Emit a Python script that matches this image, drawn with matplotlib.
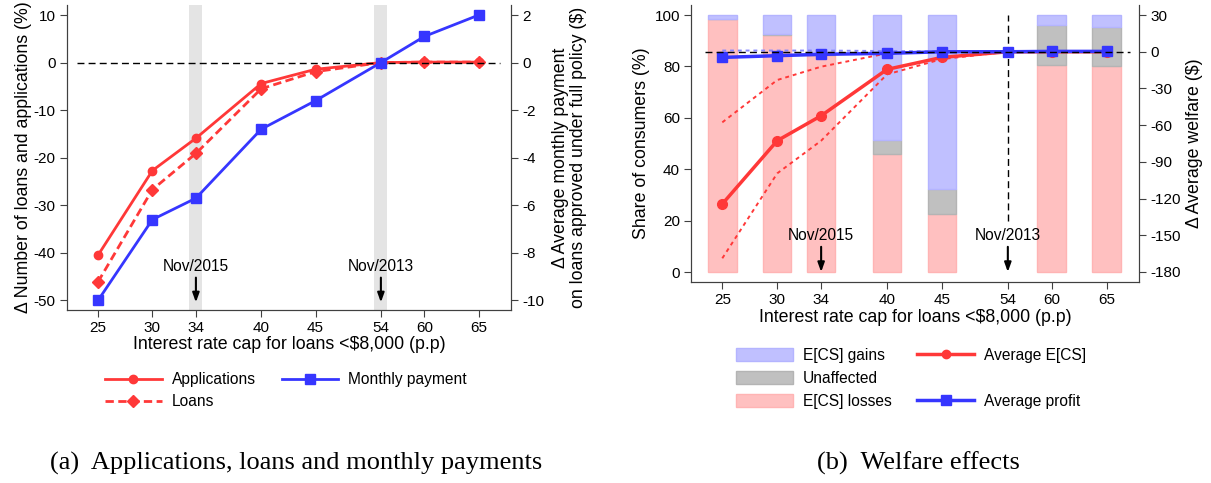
import numpy as np
import matplotlib
matplotlib.use('Agg')
import matplotlib.pyplot as plt
from matplotlib.patches import Patch
from matplotlib.lines import Line2D

plt.rcParams['font.family'] = ['Liberation Sans', 'DejaVu Sans']
plt.rcParams['font.size'] = 11
plt.rcParams['axes.unicode_minus'] = False

# interest rate caps (p.p.)
caps = [25, 30, 34, 40, 45, 54, 60, 65]

# (a) changes relative to the full policy
applications = [-40.5, -22.7, -15.9, -4.4, -1.4, 0.0, 0.1, 0.1]
loans = [-46.1, -26.7, -19.1, -5.5, -1.9, 0.0, 0.1, 0.1]
monthly_payment = [-10.0, -6.6, -5.7, -2.8, -1.6, 0.0, 1.1, 2.0]

# (b) share of consumers by welfare outcome
bar_caps = [25, 30, 34, 40, 45, 60, 65]
ecs_losses = [98.3, 92.2, 84.3, 46.0, 22.4, 80.5, 80.3]
unaffected = [0.0, 0.6, 0.4, 5.4, 9.9, 15.6, 15.2]
ecs_gains = [1.7, 7.2, 15.3, 48.6, 67.7, 3.9, 4.5]

# (b) average welfare changes ($)
avg_ecs = [-124.4, -72.7, -52.3, -14.4, -4.6, 0.0, 0.0, 0.0]
avg_ecs_hi = [-57.7, -23.1, -12.2, -1.3, 0.0, 0.0, 0.0, 0.0]
avg_ecs_lo = [-168.8, -99.4, -72.7, -18.5, -6.0, 0.0, 0.0, 0.0]
avg_profit = [-4.6, -3.2, -2.1, -1.3, 0.0, 0.0, 0.3, 0.3]
avg_profit_hi = [1.0, 1.0, 1.0, 0.6, 0.3, 0.0, 0.5, 0.5]

events = {34: 'Nov/2015', 54: 'Nov/2013'}

RED = '#ff3838'
BLUE = '#3636ff'
SPINE = '#404040'
LABEL_SIZE = 12.8
TEXT_SIZE = 11.2

# the cap axis is compressed between 45 and 60
cap_knots = [0, 45, 54, 60, 65, 100]
pos_knots = [0, 45, 51, 55, 60, 95]


def to_pos(x):
    return np.interp(x, cap_knots, pos_knots)


def to_cap(p):
    return np.interp(p, pos_knots, cap_knots)


def style_x(ax):
    ax.set_xscale('function', functions=(to_pos, to_cap))
    ax.set_xlim(to_cap(22.15), to_cap(62.95))
    ax.set_xticks(caps)
    ax.set_xticklabels([str(c) for c in caps])
    ax.xaxis.set_minor_locator(matplotlib.ticker.NullLocator())
    ax.set_xlabel('Interest rate cap for loans <$8,000 (p.p)', fontsize=LABEL_SIZE, labelpad=1)


def style_spines(ax):
    ax.spines['top'].set_visible(False)
    for s in ('left', 'right', 'bottom'):
        ax.spines[s].set_color(SPINE)
    ax.tick_params(direction='out', length=5, color=SPINE, labelsize=11, pad=3)


def span(c, half):
    return to_cap(to_pos(c) - half), to_cap(to_pos(c) + half)


fig = plt.figure(figsize=(12.11, 4.83), dpi=100)

# ---------------- (a) applications, loans, monthly payment ----------------
ax = fig.add_axes([0.0553, 0.3582, 0.3666, 0.6314])
style_x(ax)
ax.set_ylim(-52.0, 12.1)
ax.set_yticks(range(-50, 11, 10))
ax.set_ylabel('Δ Number of loans and applications (%)', fontsize=LABEL_SIZE, labelpad=1)

for c in events:
    lo, hi = span(c, 0.6)
    ax.axvspan(lo, hi, color='#e4e4e4', lw=0, zorder=0)

ax.axhline(0, xmin=0.0225, xmax=0.975, color='black', lw=1, ls=(0, (5, 3)), zorder=5)
ax.plot(caps, applications, color=RED, lw=2, marker='o', ms=6, zorder=3)
ax.plot(caps, loans, color=RED, lw=2, ls=(0, (3, 1.6)), marker='D', ms=6, zorder=3)

for c, lab in events.items():
    ax.text(c, -42.9, lab, ha='center', va='center', fontsize=TEXT_SIZE)
    ax.annotate('', xy=(c, -50.4), xytext=(c, -45.2),
                arrowprops=dict(arrowstyle='-|>,head_width=0.18,head_length=0.5',
                                lw=1.5, color='black', shrinkA=0, shrinkB=0))

axb = ax.twinx()
axb.set_ylim(-10.4, 2.42)
axb.set_yticks(range(-10, 3, 2))
axb.plot(caps, monthly_payment, color=BLUE, lw=2, marker='s', ms=7, zorder=3)
axb.set_ylabel('Δ Average monthly payment\non loans approved under full policy ($)',
               fontsize=LABEL_SIZE, labelpad=6, linespacing=1.05)
style_spines(ax)
style_spines(axb)

blank = Line2D([], [], color='none')
handles_a = [
    Line2D([], [], color=RED, lw=2, marker='o', ms=6),
    Line2D([], [], color=RED, lw=2, ls=(0, (3, 1.6)), marker='D', ms=6),
    Line2D([], [], color=BLUE, lw=2, marker='s', ms=7),
    blank,
]
fig.legend(handles_a, ['Applications', 'Loans', 'Monthly payment', ''],
           ncol=2, loc='upper left', bbox_to_anchor=(105 / 1211, 1 - 372 / 483),
           frameon=False, fontsize=TEXT_SIZE, handlelength=3.65, handletextpad=0.64,
           columnspacing=1.67, labelspacing=0.47, borderpad=0, borderaxespad=0)

# ---------------- (b) welfare effects ----------------
ax2 = fig.add_axes([0.5706, 0.4161, 0.370, 0.5735])
style_x(ax2)
ax2.set_ylim(-3.9, 103.9)
ax2.set_yticks(range(0, 101, 20))
ax2.set_ylabel('Share of consumers (%)', fontsize=LABEL_SIZE, labelpad=3)

edges = [span(c, 1.3) for c in bar_caps]
left = [e[0] for e in edges]
width = [e[1] - e[0] for e in edges]
b1 = np.array(ecs_losses)
b2 = b1 + np.array(unaffected)
ax2.bar(left, ecs_losses, width=width, align='edge',
        color='#ffc0c0', edgecolor='#ffb4b4', lw=1, zorder=1)
ax2.bar(left, unaffected, bottom=b1, width=width, align='edge',
        color='#c0c0c0', edgecolor='#b4b4b4', lw=1, zorder=1)
ax2.bar(left, ecs_gains, bottom=b2, width=width, align='edge',
        color='#c0c0ff', edgecolor='#b4b4ff', lw=1, zorder=1)

ax2.vlines(54, 20, 100, colors='black', lw=1, linestyles=(0, (5, 3)), zorder=2)
for c, lab in events.items():
    ax2.text(c, 14.4, lab, ha='center', va='center', fontsize=TEXT_SIZE)
    ax2.annotate('', xy=(c, 0), xytext=(c, 9.8),
                 arrowprops=dict(arrowstyle='-|>,head_width=0.18,head_length=0.5',
                                 lw=1.5, color='black', shrinkA=0, shrinkB=0))

ax3 = ax2.twinx()
ax3.set_ylim(-188.2, 38.2)
ax3.set_yticks(range(-180, 31, 30))
ax3.set_ylabel('Δ Average welfare ($)', fontsize=LABEL_SIZE, labelpad=4)
ax3.plot(caps, avg_ecs_hi, color=RED, lw=1.4, ls=(0, (2, 2)), zorder=2)
ax3.plot(caps, avg_ecs_lo, color=RED, lw=1.4, ls=(0, (2, 2)), zorder=2)
ax3.plot(caps, avg_profit_hi, color='#8888ff', lw=1.4, ls=(0, (2, 2)), zorder=2)
ax3.plot(caps, avg_ecs, color=RED, lw=2.5, marker='o', ms=7, zorder=3)
ax3.plot(caps, avg_profit, color=BLUE, lw=2.5, marker='s', ms=7, zorder=4)
ax3.axhline(0, xmin=14 / 448, xmax=1 - 9 / 448, color='black', lw=1,
            ls=(0, (5, 3)), zorder=5)
style_spines(ax2)
style_spines(ax3)

handles_b = [
    Patch(facecolor='#c0c0ff', edgecolor='#b4b4ff'),
    Patch(facecolor='#c0c0c0', edgecolor='#b4b4b4'),
    Patch(facecolor='#ffc0c0', edgecolor='#ffb4b4'),
    Line2D([], [], color=RED, lw=2.5, marker='o', ms=6),
    blank,
    Line2D([], [], color=BLUE, lw=2.5, marker='s', ms=7),
]
fig.legend(handles_b, ['E[CS] gains', 'Unaffected', 'E[CS] losses',
                       'Average E[CS]', '', 'Average profit'],
           ncol=2, loc='upper left', bbox_to_anchor=(736 / 1211, 1 - 348 / 483),
           frameon=False, fontsize=TEXT_SIZE, handlelength=3.65, handleheight=0.95,
           handletextpad=0.64, columnspacing=1.67, labelspacing=0.5,
           borderpad=0, borderaxespad=0)

# captions
cap_font = dict(family=['Liberation Serif', 'DejaVu Serif'], fontsize=19,
                ha='center', va='center')
fig.text(296 / 1211, 1 - 463 / 483, '(a)  Applications, loans and monthly payments', **cap_font)
fig.text(918 / 1211, 1 - 463 / 483, '(b)  Welfare effects', **cap_font)

fig.savefig('out.png', dpi=100)
